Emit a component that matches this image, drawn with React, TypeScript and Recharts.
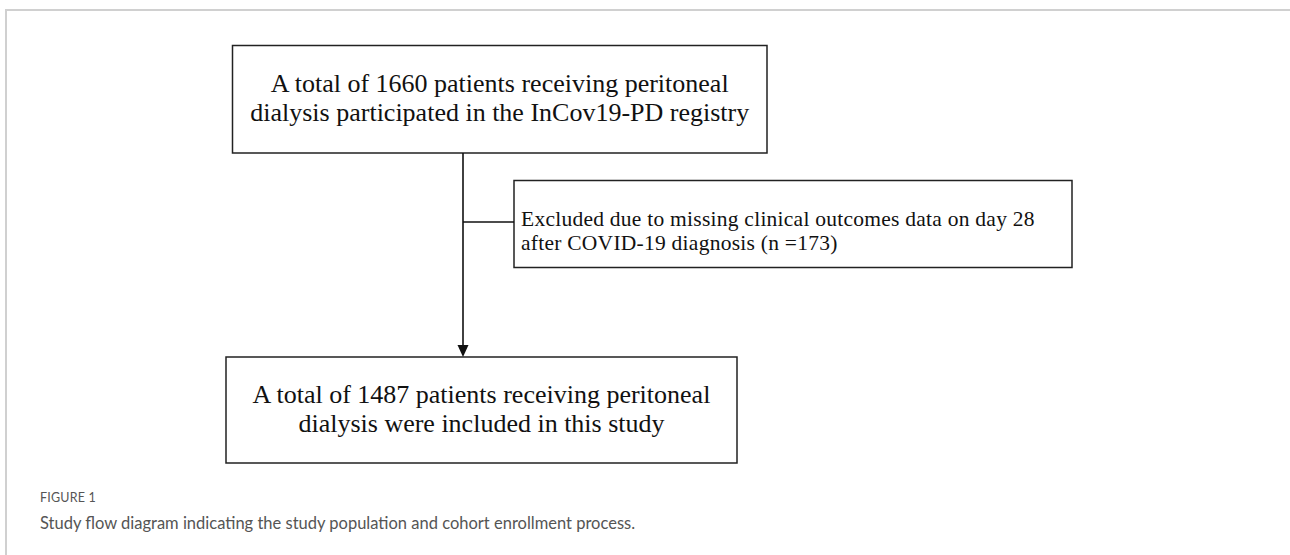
import React from 'react';
import { ComposedChart, XAxis, YAxis, ReferenceArea, ReferenceLine, Scatter } from 'recharts';

// ---- content (values & texts) ----
const enrolledCount = 1660;
const excludedCount = 173;
const includedCount = 1487;

const topBoxLines = [
  `A total of ${enrolledCount} patients receiving peritoneal`,
  'dialysis participated in the InCov19-PD registry',
];
const excludedBoxLines = [
  'Excluded due to missing clinical outcomes data on day 28',
  `after COVID-19 diagnosis (n =${excludedCount})`,
];
const bottomBoxLines = [
  `A total of ${includedCount} patients receiving peritoneal`,
  'dialysis were included in this study',
];
const captionTitle = 'FIGURE 1';
const captionText = 'Study flow diagram indicating the study population and cohort enrollment process.';

// ---- layout (diagram coordinate space == pixel space) ----
const W = 1290;
const H = 555;
const topBox = { x1: 232.5, x2: 767, y1: 45.5, y2: 153 };
const exclBox = { x1: 514, x2: 1072, y1: 180.5, y2: 267.5 };
const botBox = { x1: 226, x2: 737, y1: 357, y2: 463 };
const spineX = 463;
const branchY = 222;

const mainFont = 26;
const exclFont = 21.5;
const lineGap = 29;
const exclGap = 24;

type TextPt = { x: number; y: number; text: string; anchor: string; size: number; ls: number };

const textPoints: TextPt[] = [
  ...topBoxLines.map((t, i) => ({ x: (topBox.x1 + topBox.x2) / 2, y: 91.5 + i * lineGap, text: t, anchor: 'middle', size: mainFont, ls: 0 })),
  ...excludedBoxLines.map((t, i) => ({ x: exclBox.x1 + 7, y: 226 + i * exclGap, text: t, anchor: 'start', size: exclFont, ls: 0.25 })),
  ...bottomBoxLines.map((t, i) => ({ x: (botBox.x1 + botBox.x2) / 2, y: 403 + i * lineGap, text: t, anchor: 'middle', size: mainFont, ls: 0 })),
];

const arrowPoints = [{ x: spineX, y: botBox.y1 }];

const TextShape = (props: any) => {
  const { cx, cy, payload } = props;
  return (
    <text
      x={cx}
      y={cy}
      textAnchor={payload.anchor}
      fontFamily="'Liberation Serif', 'Times New Roman', serif"
      fontSize={payload.size}
      letterSpacing={payload.ls}
      fill="#111"
    >
      {payload.text}
    </text>
  );
};

const ArrowShape = (props: any) => {
  const { cx, cy } = props;
  return <path d={`M${cx - 5.5},${cy - 12} L${cx + 5.5},${cy - 12} L${cx},${cy} Z`} fill="#111" />;
};

const boxStyle = { fill: '#fff', fillOpacity: 1, stroke: '#222', strokeWidth: 1.5 };

export default function App() {
  return (
    <div style={{ position: 'absolute', left: 0, top: 0, width: W, height: H, background: '#fff', overflow: 'hidden' }}>
      <div
        style={{
          position: 'absolute',
          left: 5,
          top: 9,
          width: W,
          height: H,
          borderTop: '2px solid #d0d0d0',
          borderLeft: '2px solid #d0d0d0',
        }}
      />
      <div style={{ position: 'absolute', left: 0, top: 0 }}>
        <ComposedChart width={W} height={H} margin={{ top: 0, right: 0, bottom: 0, left: 0 }} data={textPoints}>
          <XAxis type="number" dataKey="x" domain={[0, W]} hide allowDataOverflow />
          <YAxis type="number" dataKey="y" domain={[0, H]} reversed hide allowDataOverflow />
          <ReferenceLine
            segment={[{ x: spineX, y: topBox.y2 }, { x: spineX, y: botBox.y1 - 10 }]}
            stroke="#111"
            strokeWidth={1.6}
          />
          <ReferenceLine
            segment={[{ x: spineX, y: branchY }, { x: exclBox.x1, y: branchY }]}
            stroke="#111"
            strokeWidth={1.4}
          />
          <ReferenceArea {...topBox} {...boxStyle} />
          <ReferenceArea {...exclBox} {...boxStyle} />
          <ReferenceArea {...botBox} {...boxStyle} />
          <Scatter data={arrowPoints} shape={ArrowShape} isAnimationActive={false} />
          <Scatter data={textPoints} shape={TextShape} isAnimationActive={false} />
        </ComposedChart>
      </div>
      <div
        style={{
          position: 'absolute',
          left: 40,
          top: 490,
          fontFamily: "Lato, 'Open Sans', sans-serif",
          fontSize: 12.5,
          color: '#555',
          letterSpacing: 0.2,
        }}
      >
        {captionTitle}
      </div>
      <div
        style={{
          position: 'absolute',
          left: 40,
          top: 513,
          fontFamily: "Lato, 'Open Sans', sans-serif",
          fontSize: 16.5,
          color: '#555',
        }}
      >
        {captionText}
      </div>
    </div>
  );
}
